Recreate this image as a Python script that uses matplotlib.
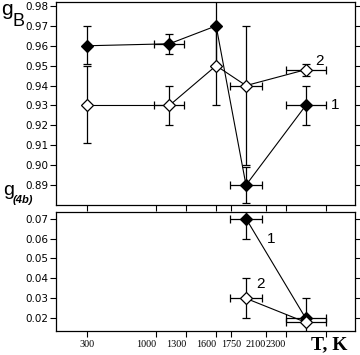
import matplotlib.pyplot as plt

# temperatures (K) and their uncertainty
T = [300, 1130, 1600, 1900, 2500]
T_err = [0, 150, 0, 165, 200]

# g_B, curve 1 (filled) and curve 2 (open)
gB_1 = [0.960, 0.961, 0.970, 0.890, 0.930]
gB_1_lo = [0.009, 0.005, 0.020, 0.009, 0.010]
gB_1_hi = [0.010, 0.005, 0.020, 0.009, 0.010]
gB_2 = [0.930, 0.930, 0.950, 0.940, 0.948]
gB_2_lo = [0.019, 0.010, 0.020, 0.040, 0.003]
gB_2_hi = [0.020, 0.010, 0.020, 0.030, 0.003]

# g(4b), only the two hottest points
T_b = [1900, 2500]
T_b_err = [165, 200]
g4b_1 = [0.070, 0.020]
g4b_1_err = [0.010, 0.010]
g4b_2 = [0.030, 0.018]
g4b_2_err = [0.010, 0.0]

xticks = [300, 1000, 1300, 1600, 1750, 2100, 2300, 2700]
xtick_labels = ["300", "1000", "1300", "1600", "1750", "2100", "2300", ""]
xtick_ha = ["center", "right", "right", "right", "center", "right", "right", "center"]

fig = plt.figure(figsize=(3.6, 3.55), dpi=100)
ax1 = fig.add_axes([0.1556, 0.4225, 0.8306, 0.5719])
ax2 = fig.add_axes([0.1556, 0.0676, 0.8306, 0.3352])

eb = dict(color="black", lw=0.8, elinewidth=0.9, capsize=3.2, capthick=0.9,
          marker="D", markersize=6.5, markeredgecolor="black", markeredgewidth=0.9)

ax1.errorbar(T, gB_1, yerr=[gB_1_lo, gB_1_hi], xerr=T_err, markerfacecolor="black", **eb)
ax1.errorbar(T, gB_2, yerr=[gB_2_lo, gB_2_hi], xerr=T_err, markerfacecolor="white", **eb)
ax2.errorbar(T_b, g4b_1, yerr=g4b_1_err, xerr=T_b_err, markerfacecolor="black", **eb)
ax2.errorbar(T_b, g4b_2, yerr=g4b_2_err, xerr=T_b_err, markerfacecolor="white", **eb)

ax1.text(2640, 0.9525, "2", fontsize=11, family="Liberation Sans", ha="center", va="center")
ax1.text(2800, 0.930, "1", fontsize=11, family="Liberation Sans", ha="center", va="center")
ax2.text(2150, 0.060, "1", fontsize=11, family="Liberation Sans", ha="center", va="center")
ax2.text(2050, 0.037, "2", fontsize=11, family="Liberation Sans", ha="center", va="center")

ax1.set_ylim(0.88, 0.982)
ax1.set_yticks([0.89, 0.90, 0.91, 0.92, 0.93, 0.94, 0.95, 0.96, 0.97, 0.98])
ax2.set_ylim(0.01365, 0.0733)
ax2.set_yticks([0.02, 0.03, 0.04, 0.05, 0.06, 0.07])

for ax in (ax1, ax2):
    ax.set_xlim(-8, 2995)
    ax.set_xticks(xticks)
    ax.tick_params(direction="out", length=4, width=0.8, right=True, top=False)
    ax.tick_params(axis="y", labelsize=7.5, pad=1.5)
    for s in ax.spines.values():
        s.set_linewidth(0.9)
    ax.yaxis.set_major_formatter(plt.FormatStrFormatter("%.2f"))

ax1.tick_params(axis="x", labelbottom=False)
ax2.set_xticklabels(xtick_labels, family="Liberation Serif", fontsize=7.3)
ax2.tick_params(axis="x", pad=2.5)
for lab, ha in zip(ax2.get_xticklabels(), xtick_ha):
    lab.set_ha(ha)

fig.text(0.003, 0.972, "g", fontsize=15, family="Liberation Sans", va="center")
fig.text(0.035, 0.94, "B", fontsize=13, family="Liberation Sans", va="center")
fig.text(0.008, 0.463, "g", fontsize=14, family="Liberation Sans", va="center")
fig.text(0.036, 0.438, "(4b)", fontsize=8, style="italic", weight="bold",
         family="Liberation Sans", va="center")
fig.text(0.965, 0.03, "T, K", fontsize=14, weight="bold", family="Liberation Serif",
         ha="right", va="center")

fig.savefig("out.png", dpi=100)
